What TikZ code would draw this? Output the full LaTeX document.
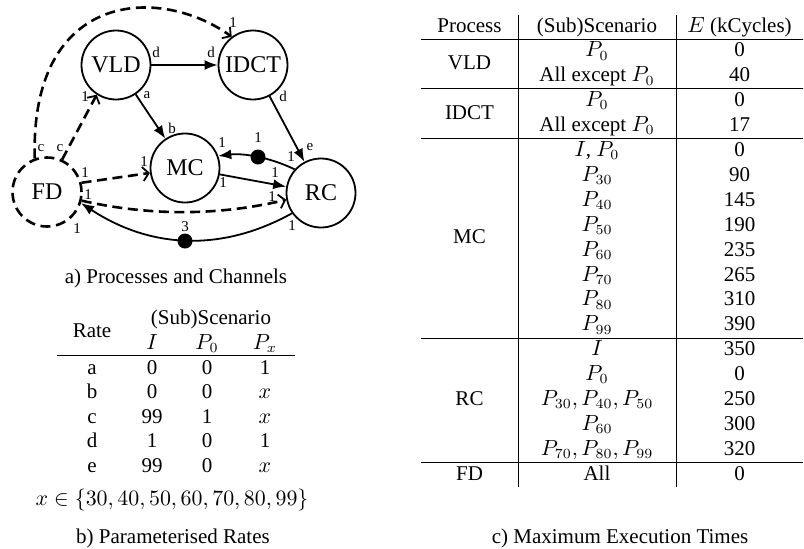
\documentclass[tikz,border=0pt]{standalone}
\usepackage[no-math]{fontspec}
\setmainfont{Liberation Serif}
\usetikzlibrary{arrows.meta}
\begin{document}
\begin{tikzpicture}[x=0.5pt, y=-0.5pt,
  proc/.style={circle, draw, line width=0.9pt, minimum size=34.5pt, inner sep=0pt, font=\fontsize{12}{14}\selectfont},
  dproc/.style={proc, dash pattern=on 5pt off 2.8pt, line width=1.3pt},
  lbl/.style={font=\fontsize{7.5}{9}\selectfont, inner sep=0pt},
  sedge/.style={line width=0.9pt, -{Latex[length=6.5pt,width=5pt]}},
  dedge/.style={line width=1.3pt, dash pattern=on 5pt off 2.8pt, -{Straight Barb[length=3pt,width=7pt,line width=0.9pt]}},
  token/.style={circle, fill, inner sep=0pt, minimum size=7.5pt},
  tbl/.style={font=\fontsize{10.5}{12}\selectfont, inner sep=0pt, anchor=base},
  captext/.style={font=\fontsize{10.5}{12}\selectfont, inner sep=0pt, anchor=base},
  rule/.style={line width=0.5pt}]
\useasboundingbox (0,0) rectangle (804,548);

% ---------- graph ----------
\node[proc] (VLD) at (116,65) {VLD};
\node[proc] (IDCT) at (253,65) {IDCT};
\node[proc] (MC) at (185,168) {MC};
\node[proc] (RC) at (321,193) {RC};
\node[dproc] (FD) at (47,192) {FD};

\draw[sedge] (VLD) -- (IDCT);
\draw[sedge] (VLD) -- (MC);
\draw[sedge] (IDCT) -- (RC);
\draw[sedge] (MC) -- (RC);
\draw[sedge] (RC.138) .. controls (269,157) and (243,153) .. (MC.20);
\draw[sedge] (RC.215) .. controls (222,252) and (151,249) .. (FD.342);
\draw[dedge] (FD.15) -- (MC.188);
\draw[dedge] (FD.346) .. controls (149,216) and (218,216) .. (RC.191);
\draw[dedge] (FD.65) -- (VLD.237);
\draw[dedge] (FD.110) .. controls (30,-10) and (160,-15) .. (IDCT.127);

\node[token] (tok1) at (258,157) {};
\node[token] (tok2) at (185,241) {};

\node[lbl] (l1) at (156,52) {d};
\node[lbl] (l2) at (211,52) {d};
\node[lbl] (l3) at (147,95) {a};
\node[lbl] (l4) at (172,128) {b};
\node[lbl] (l5) at (283,96) {d};
\node[lbl] (l6) at (310,147) {e};
\node[lbl] (l7) at (223,183) {1};
\node[lbl] (l8) at (275,173) {1};
\node[lbl] (l9) at (222,143) {1};
\node[lbl] (l10) at (258,138) {1};
\node[lbl] (l11) at (291,157) {1};
\node[lbl] (l12) at (185,227) {3};
\node[lbl] (l13) at (292,226) {1};
\node[lbl] (l14) at (77,229) {1};
\node[lbl] (l15) at (85,173) {1};
\node[lbl] (l16) at (144,162) {1};
\node[lbl] (l17) at (88,195) {1};
\node[lbl] (l18) at (272,197) {1};
\node[lbl] (l19) at (60,148) {c};
\node[lbl] (l20) at (85,97) {1};
\node[lbl] (l21) at (41,148) {c};
\node[lbl] (l22) at (233,23) {1};

\node[captext] (capa) at (176,283) {a) Processes and Channels};

% ---------- table b ----------
\node[tbl] (bsub) at (211,324) {(Sub)Scenario};
\node[tbl] (brate) at (92,337) {Rate};
\node[tbl] (bI) at (152,349) {$I$};
\node[tbl] (bP0) at (207,349) {$P_0$};
\node[tbl] (bPx) at (265,349) {$P_x$};
\draw[rule] (57,355.5) -- (295,355.5);
\foreach \k/\r/\a/\b/\c in {0/a/0/0/1, 1/b/0/0/$x$, 2/c/99/1/$x$, 3/d/1/0/1, 4/e/99/0/$x$}{
  \node[tbl] (br\k) at (92,{374+24.5*\k}) {\r};
  \node[tbl] (bi\k) at (152,{374+24.5*\k}) {\a};
  \node[tbl] (bp\k) at (207,{374+24.5*\k}) {\b};
  \node[tbl] (bx\k) at (265,{374+24.5*\k}) {\c};
}
\node[tbl] (bset) at (172,505) {$x\in\{30,40,50,60,70,80,99\}$};
\node[captext] (capb) at (173,543) {b) Parameterised Rates};

% ---------- table c ----------
\draw[rule] (518,15) -- (518,487);
\draw[rule] (676,15) -- (676,487);
\foreach \y in {39,88.8,138.6,338,462}{
  \draw[rule] (421,\y) -- (803,\y);
}
\node[tbl] (hp) at (469.5,32) {Process};
\node[tbl] (hs) at (597,32) {(Sub)Scenario};
\node[tbl] (he) at (739.5,32) {$E$ (kCycles)};
\node[tbl] (pVLD) at (469.5,69.4) {VLD};
\node[tbl] (pIDCT) at (469.5,119) {IDCT};
\node[tbl] (pMC) at (469.5,243.7) {MC};
\node[tbl] (pRC) at (469.5,405.5) {RC};
\node[tbl] (pFD) at (469.5,480.2) {FD};
\foreach \i/\s/\v in {1/{$P_0$}/0, 2/{All except $P_0$}/40, 3/{$P_0$}/0, 4/{All except $P_0$}/17,
  5/{$I$, $P_0$}/0, 6/{$P_{30}$}/90, 7/{$P_{40}$}/145, 8/{$P_{50}$}/190, 9/{$P_{60}$}/235,
  10/{$P_{70}$}/265, 11/{$P_{80}$}/310, 12/{$P_{99}$}/390, 13/{$I$}/350, 14/{$P_0$}/0,
  15/{$P_{30}, P_{40}, P_{50}$}/250, 16/{$P_{60}$}/300, 17/{$P_{70}, P_{80}, P_{99}$}/320, 18/{All}/0}{
  \node[tbl] (s\i) at (597,{32+24.9*\i}) {\s};
  \node[tbl] (e\i) at (739.5,{32+24.9*\i}) {\v};
}
\node[captext] (capc) at (620,543) {c) Maximum Execution Times};
\end{tikzpicture}
\end{document}
